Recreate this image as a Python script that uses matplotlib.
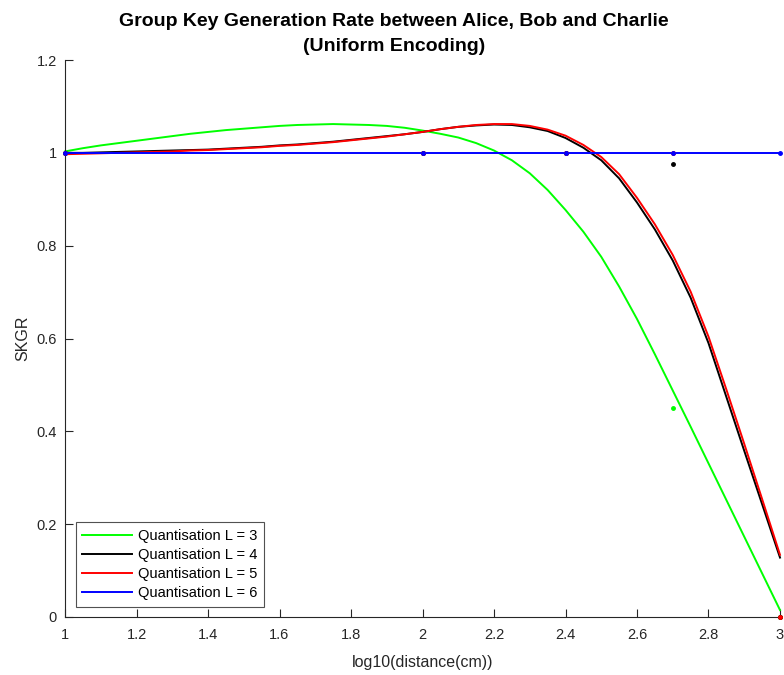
import numpy as np
import matplotlib
matplotlib.use('Agg')
import matplotlib.pyplot as plt

plt.rcParams['font.family'] = ['Liberation Sans', 'DejaVu Sans']

# measured points (log10 distance)
xd = [1, 2, 2.4, 2.7, 3]
yd_l3 = [1, 1, 1, 0.45, 0]
yd_l4 = [1, 1, 1, 0.975, 0]
yd_l5 = [1, 1, 1, 1, 0]
yd_l6 = [1, 1, 1, 1, 1]

# fitted curves, every 0.05
xf = np.round(np.arange(1, 3.0001, 0.05), 2)
yf_l3 = [1.003, 1.010, 1.016, 1.021, 1.026, 1.031, 1.036, 1.041, 1.045, 1.049,
         1.052, 1.055, 1.058, 1.060, 1.061, 1.062, 1.061, 1.060, 1.058, 1.054,
         1.048, 1.041, 1.033, 1.021, 1.005, 0.984, 0.956, 0.920, 0.877, 0.830,
         0.776, 0.712, 0.642, 0.566, 0.488, 0.410, 0.331, 0.252, 0.173, 0.094,
         0.015]
yf_l4 = [1.000, 1.000, 1.001, 1.002, 1.003, 1.004, 1.005, 1.006, 1.007, 1.009,
         1.011, 1.013, 1.016, 1.018, 1.021, 1.024, 1.028, 1.032, 1.036, 1.040,
         1.045, 1.051, 1.056, 1.059, 1.061, 1.060, 1.055, 1.047, 1.032, 1.011,
         0.984, 0.945, 0.893, 0.835, 0.768, 0.688, 0.590, 0.474, 0.358, 0.243,
         0.128]
yf_l5 = [0.997, 0.998, 0.999, 1.000, 1.001, 1.002, 1.003, 1.005, 1.006, 1.008,
         1.010, 1.012, 1.015, 1.017, 1.020, 1.023, 1.027, 1.031, 1.035, 1.040,
         1.045, 1.051, 1.056, 1.060, 1.062, 1.062, 1.058, 1.050, 1.037, 1.017,
         0.991, 0.954, 0.903, 0.846, 0.780, 0.701, 0.604, 0.490, 0.373, 0.254,
         0.134]
yf_l6 = [1.0] * len(xf)

labels = ['Quantisation L = 3', 'Quantisation L = 4',
          'Quantisation L = 5', 'Quantisation L = 6']
colors = [(0, 1, 0), 'k', (1, 0, 0), (0, 0, 1)]

fig = plt.figure(figsize=(7.84, 6.75), dpi=100)
ax = fig.add_axes([65 / 784, 58 / 675, 715 / 784, 557 / 675])

ydata = [yd_l3, yd_l4, yd_l5, yd_l6]
yfits = [yf_l3, yf_l4, yf_l5, yf_l6]
lines = []
for yd, yf, c, lab in zip(ydata, yfits, colors, labels):
    ax.plot(xd, yd, '.', color=c, markersize=5, clip_on=False, zorder=3)
    ln, = ax.plot(xf, yf, '-', color=c, linewidth=1.4, label=lab, clip_on=False, zorder=2)
    lines.append(ln)

ax.set_xlim(1, 3)
ax.set_ylim(0, 1.2)
ax.set_xticks(np.round(np.arange(1, 3.01, 0.2), 1))
ax.set_xticklabels(['1', '1.2', '1.4', '1.6', '1.8', '2', '2.2', '2.4', '2.6', '2.8', '3'])
ax.set_yticks(np.round(np.arange(0, 1.21, 0.2), 1))
ax.set_yticklabels(['0', '0.2', '0.4', '0.6', '0.8', '1', '1.2'])

for s in ['top', 'right']:
    ax.spines[s].set_visible(False)
for s in ['left', 'bottom']:
    ax.spines[s].set_color('#262626')
    ax.spines[s].set_linewidth(0.8)
ax.tick_params(direction='in', length=6, width=0.8, colors='#262626', labelsize=10.5)
ax.tick_params(axis='x', pad=8)
ax.tick_params(axis='y', pad=6)

ax.set_xlabel('log10(distance(cm))', fontsize=11.5, color='#262626', labelpad=9)
ax.set_ylabel('SKGR', fontsize=11.5, color='#262626', labelpad=4)
fig.text(394 / 784, 1 - 34 / 675,
         'Group Key Generation Rate between Alice, Bob and Charlie\n(Uniform Encoding)',
         ha='center', va='center', fontsize=14, fontweight='bold', linespacing=1.55)

leg = ax.legend(handles=lines, loc='lower left', bbox_to_anchor=(0.015, 0.018),
                fontsize=10.5, frameon=True, fancybox=False, edgecolor='#262626',
                handlelength=3.4, handletextpad=0.45, borderpad=0.45, labelspacing=0.36,
                borderaxespad=0)
leg.get_frame().set_linewidth(0.8)

fig.savefig('out.png', dpi=100)
